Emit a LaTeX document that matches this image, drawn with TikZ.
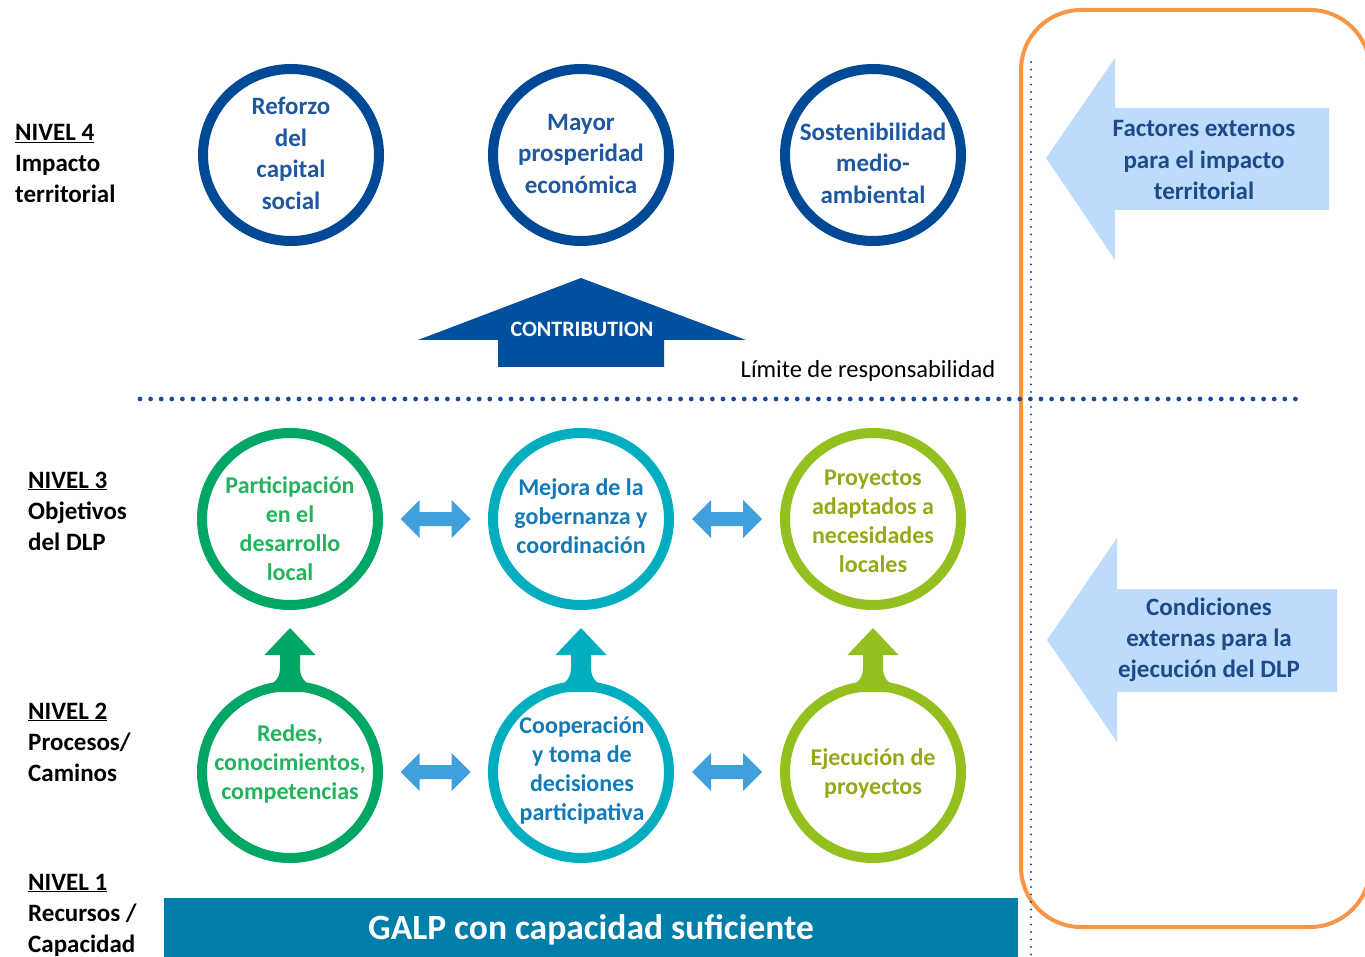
\documentclass[tikz,border=0pt]{standalone}
\usepackage{fontspec}
\setmainfont{Carlito}
\usetikzlibrary{calc,shapes.geometric}
\definecolor{navy}{RGB}{0,73,150}
\definecolor{navytext}{RGB}{30,88,160}
\definecolor{contrib}{RGB}{0,80,160}
\definecolor{dotblue}{RGB}{25,75,155}
\definecolor{orangebox}{RGB}{247,150,70}
\definecolor{lightarrow}{RGB}{189,219,250}
\definecolor{lighttext}{RGB}{30,75,135}
\definecolor{grn}{RGB}{0,166,100}
\definecolor{grntext}{RGB}{34,180,92}
\definecolor{tealc}{RGB}{0,174,192}
\definecolor{tealtext}{RGB}{18,122,182}
\definecolor{limec}{RGB}{147,192,30}
\definecolor{limetext}{RGB}{150,168,22}
\definecolor{dblarrow}{RGB}{64,160,220}
\definecolor{barblue}{RGB}{0,126,170}
\begin{document}
\begin{tikzpicture}[x=1pt,y=-1pt,
  ring/.style={ellipse, draw, line width=10pt, minimum width=176pt, minimum height=172pt, inner sep=0pt},
  ctext/.style={align=center, inner sep=0pt, font=\bfseries\fontsize{24}{29}\selectfont},
  toptext/.style={align=center, inner sep=0pt, font=\bfseries\fontsize{25}{31.5}\selectfont},
  lvl/.style={align=left, anchor=west, inner sep=0pt, font=\bfseries\fontsize{25}{31}\selectfont},
  boxtext/.style={align=center, inner sep=0pt, text=lighttext, font=\bfseries\fontsize{25}{31.2}\selectfont},
  dbl/.pic={\fill[dblarrow] (-35,0) -- (-16,-19) -- (-16,-7) -- (16,-7) -- (16,-19) -- (35,0) -- (16,19) -- (16,7) -- (-16,7) -- (-16,19) -- cycle;},
  upar/.pic={\fill (0,0) -- (25.5,27) -- (10,27) -- (10,40) .. controls (10,52) and (18,60) .. (40,64) -- (-40,64) .. controls (-18,60) and (-10,52) .. (-10,40) -- (-10,27) -- (-25.5,27) -- cycle;}
]
\useasboundingbox (0,0) rectangle (1365,957);
\clip (0,0) rectangle (1365,957);

% orange frame and dotted lines
\draw[orangebox, line width=4pt, rounded corners=60pt] (1021,10) rectangle (1370,927);
\draw[dotblue, line width=2.2pt, line cap=round, dash pattern=on 0pt off 7.5pt] (1031,62) -- (1031,957);
\draw[dotblue, line width=4.8pt, line cap=round, dash pattern=on 0pt off 10.6pt] (140,399) -- (1297,399);

% left level labels
\node[lvl] (n4) at (15,163.5) {\underline{NIVEL 4}\\Impacto\\territorial};
\node[lvl] (n3) at (28,511) {\underline{NIVEL 3}\\Objetivos\\del DLP};
\node[lvl] (n2) at (28,742) {\underline{NIVEL 2}\\Procesos/\\Caminos};
\node[lvl] (n1) at (28,915) {\underline{NIVEL 1}\\Recursos /\\Capacidad};

% level 4
\node[ring, draw=navy] (c41) at (291,155) {};
\node[ring, draw=navy] (c42) at (581,155) {};
\node[ring, draw=navy] (c43) at (873,155) {};
\node[toptext, text=navytext] (t41) at (291,153.5) {Reforzo\\del\\capital\\social};
\node[toptext, text=navytext] (t42) at (581,153.5) {Mayor\\prosperidad\\económica};
\node[toptext, text=navytext] (t43) at (873,163) {Sostenibilidad\\medio-\\ambiental};

% contribution arrow
\fill[contrib] (581,278) -- (746,340) -- (664,340) -- (664,367) -- (498,367) -- (498,340) -- (418,340) -- cycle;
\node[inner sep=0pt, text=white, font=\bfseries\fontsize{22}{26}\selectfont] (contr) at (582,329) {CONTRIBUTION};
\node[inner sep=0pt, font=\fontsize{24.5}{28}\selectfont] (limite) at (868,371) {Límite de responsabilidad};

% level 3
\node[ring, draw=grn] (c31) at (290,519) {};
\node[ring, draw=tealc] (c32) at (581,519) {};
\node[ring, draw=limec] (c33) at (873,519) {};
\node[ctext, text=grntext] (t31) at (290,528.5) {Participación\\en el\\desarrollo\\local};
\node[ctext, text=tealtext] (t32) at (581,516.5) {Mejora de la\\gobernanza y\\coordinación};
\node[ctext, text=limetext] (t33) at (873,521) {Proyectos\\adaptados a\\necesidades\\locales};
\pic at ($(c31.east)!0.5!(c32.west)$) {dbl};
\pic at ($(c32.east)!0.5!(c33.west)$) {dbl};

% level 2
\node[ring, draw=grn] (c21) at (290,772) {};
\node[ring, draw=tealc] (c22) at (581,772) {};
\node[ring, draw=limec] (c23) at (873,772) {};
\node[ctext, text=grntext] (t21) at (290,764) {Redes,\\conocimientos,\\competencias};
\node[ctext, text=tealtext] (t22) at (582,770.5) {Cooperación\\y toma de\\decisiones\\participativa};
\node[ctext, text=limetext] (t23) at (873,773) {Ejecución de\\proyectos};
\pic at ($(c21.east)!0.5!(c22.west)$) {dbl};
\pic at ($(c22.east)!0.5!(c23.west)$) {dbl};
\pic[color=grn] at ($(c21.north)+(0,-53)$) {upar};
\pic[color=tealc] at ($(c22.north)+(0,-53)$) {upar};
\pic[color=limec] at ($(c23.north)+(0,-53)$) {upar};

% external factor arrows
\fill[lightarrow] (1046,158) -- (1115,58) -- (1115,108) -- (1329,108) -- (1329,210) -- (1115,210) -- (1115,260) -- cycle;
\node[boxtext] (ext1) at (1204,160) {Factores externos\\para el impacto\\territorial};
\fill[lightarrow] (1047,640) -- (1117,538) -- (1117,589) -- (1337,589) -- (1337,692) -- (1117,692) -- (1117,742) -- cycle;
\node[boxtext] (ext2) at (1209,640) {Condiciones\\externas para la\\ejecución del DLP};

% level 1 bar
\node[fill=barblue, minimum width=854pt, minimum height=64pt, inner sep=0pt, text=white, font=\bfseries\fontsize{35.5}{40}\selectfont] (galp) at (591,930) {GALP con capacidad suficiente};
\end{tikzpicture}
\end{document}
